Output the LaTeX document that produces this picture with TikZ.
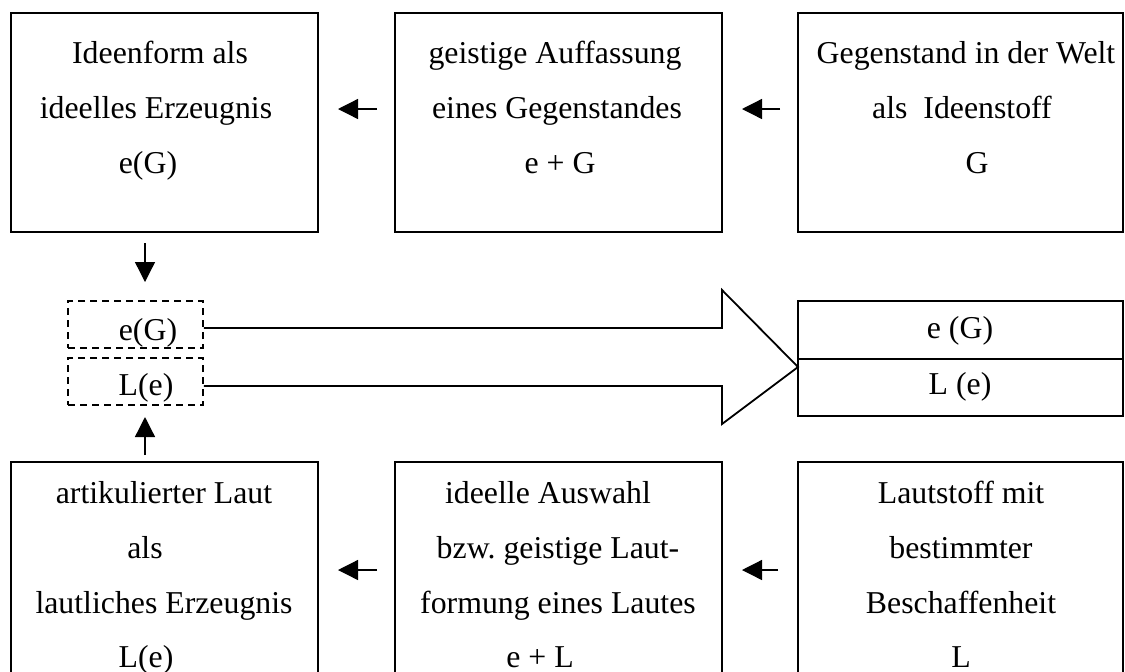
\documentclass[tikz,border=0pt]{standalone}
\usepackage{fontspec}
\setmainfont{Liberation Serif}
\usetikzlibrary{arrows.meta}
\frenchspacing
\tikzset{
  box/.style={draw, line width=0.9pt, inner sep=0pt, rectangle},
  dbox/.style={draw, line width=0.9pt, inner sep=0pt, rectangle, dash pattern=on 3.5pt off 2.5pt},
  txt/.style={inner sep=0pt, anchor=base, font=\fontsize{15.9pt}{19pt}\selectfont},
  arr/.style={line width=0.65pt, -{Triangle[length=10pt,width=10pt]}},
  big/.style={line width=0.9pt, line join=miter}
}
\begin{document}
\begin{tikzpicture}[x=0.5pt,y=-0.5pt]
\useasboundingbox (0,0) rectangle (1125,671);
\clip (0,0) rectangle (1125,671);
% top boxes
\node[box, minimum width=153.5pt, minimum height=109.5pt] (t1) at (164.5,122.5) {};
\node[box, minimum width=163.5pt, minimum height=109.5pt] (t2) at (558.5,122.5) {};
\node[box, minimum width=162.5pt, minimum height=109.5pt] (t3) at (960.5,122.5) {};
% bottom boxes (run past the lower edge)
\node[box, minimum width=153.5pt, minimum height=120pt] (b1) at (164.5,582) {};
\node[box, minimum width=163.5pt, minimum height=120pt] (b2) at (558.5,582) {};
\node[box, minimum width=162.5pt, minimum height=120pt] (b3) at (960.5,582) {};
% dashed boxes
\node[dbox, minimum width=67.5pt, minimum height=23.5pt] (dG) at (135.5,324.5) {};
\node[dbox, minimum width=67.5pt, minimum height=23.5pt] (dL) at (135.5,381.5) {};
% right boxes
\node[box, minimum width=162.5pt, minimum height=29pt] (rG) at (960.5,330) {};
\node[box, minimum width=162.5pt, minimum height=28.5pt] (rL) at (960.5,387.5) {};
% texts top
\node[txt] (t1a) at (160,63) {Ideenform als};
\node[txt] (t1b) at (156,118) {ideelles Erzeugnis};
\node[txt] (t1c) at (148,173) {e(G)};
\node[txt] (t2a) at (555,63) {geistige Auffassung};
\node[txt] (t2b) at (557,118) {eines Gegenstandes};
\node[txt] (t2c) at (560,173) {e + G};
\node[txt] (t3a) at (966,63) {Gegenstand in der Welt};
\node[txt] (t3b) at (962,118) {als\ \ Ideenstoff};
\node[txt] (t3c) at (977,173) {G};
% texts bottom
\node[txt] (b1a) at (164,503) {artikulierter Laut};
\node[txt] (b1b) at (145,558) {als};
\node[txt] (b1c) at (164,613) {lautliches Erzeugnis};
\node[txt] (b1d) at (146,667) {L(e)};
\node[txt] (b2a) at (548,503) {ideelle Auswahl};
\node[txt] (b2b) at (558,558) {bzw. geistige Laut-};
\node[txt] (b2c) at (558,613) {formung eines Lautes};
\node[txt] (b2d) at (540,667) {e + L};
\node[txt] (b3a) at (961,503) {Lautstoff mit};
\node[txt] (b3b) at (961,558) {bestimmter};
\node[txt] (b3c) at (961,613) {Beschaffenheit};
\node[txt] (b3d) at (961,667) {L};
% middle texts
\node[txt] (dGt) at (148,340) {e(G)};
\node[txt] (dLt) at (146,395) {L(e)};
\node[txt] (rGt) at (960,338) {e (G)};
\node[txt] (rLt) at (960,394) {L (e)};
% small arrows
\coordinate (a1s) at (377,109); \coordinate (a1e) at (338,109);
\coordinate (a2s) at (780,109); \coordinate (a2e) at (742,109);
\coordinate (a3s) at (377,570); \coordinate (a3e) at (338,570);
\coordinate (a4s) at (778,570); \coordinate (a4e) at (742,570);
\coordinate (v1s) at (145,243); \coordinate (v1e) at (145,282);
\coordinate (v2s) at (145,455); \coordinate (v2e) at (145,417);
\draw[arr] (a1s) -- (a1e);
\draw[arr] (a2s) -- (a2e);
\draw[arr] (a3s) -- (a3e);
\draw[arr] (a4s) -- (a4e);
\draw[arr] (v1s) -- (v1e);
\draw[arr] (v2s) -- (v2e);
% big arrow
\coordinate (hb) at (722,0);
\coordinate (tip) at (798,367);
\draw[big] (dG.east |- 0,328) -- (hb |- 0,328) -- (hb |- 0,290) -- (tip)
  -- (hb |- 0,424) -- (hb |- 0,386) -- (dL.east |- 0,386);
\end{tikzpicture}
\end{document}
